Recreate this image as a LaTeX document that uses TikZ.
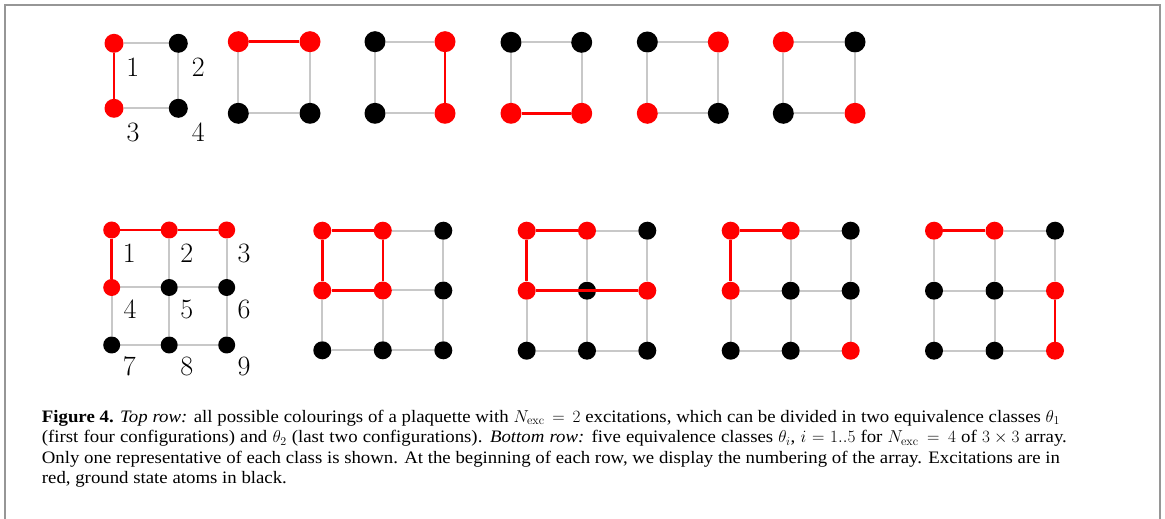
\documentclass[tikz,border=0pt]{standalone}
\usepackage{fontspec}
\newfontfamily\capfont[FakeStretch=1.075]{Liberation Serif}
\pgfdeclarelayer{edgel}
\pgfdeclarelayer{blackl}
\pgfdeclarelayer{redl}
\pgfsetlayers{edgel,blackl,redl,main}
\definecolor{edgegray}{RGB}{200,200,200}
\definecolor{framegray}{RGB}{150,150,150}
\tikzset{
  rsite/.style={circle, fill=red, inner sep=0pt},
  ksite/.style={circle, fill=black, inner sep=0pt},
  gline/.style={draw=edgegray, line width=2bp},
  rline/.style={draw=red, line width=2.6bp},
  numlab/.style={inner sep=0pt, font=\fontsize{28bp}{28bp}\selectfont},
  caption/.style={inner sep=0pt, anchor=base west, font=\capfont\fontsize{17.5bp}{20.5bp}\selectfont},
}
\newcommand{\site}[5]{%
  \if r#4%
    \node[rsite, minimum size=#5bp] (#1) at (#2,#3) {};%
  \else
    \begin{pgfonlayer}{blackl}\node[ksite, minimum size=#5bp] (#1) at (#2,#3) {};\end{pgfonlayer}%
  \fi}
\newcommand{\gedge}[2]{\begin{pgfonlayer}{edgel}\draw[gline] (#1) -- (#2);\end{pgfonlayer}}
\newcommand{\redge}[2]{\begin{pgfonlayer}{redl}\draw[rline] (#1) -- (#2);\end{pgfonlayer}}
% id, n, x0, dx, y0, dy, size, colours
\newcommand{\sqgrid}[8]{%
  \foreach \c [count=\i from 0] in {#8}{%
    \pgfmathtruncatemacro\sgcol{mod(\i,#2)}%
    \pgfmathtruncatemacro\sgrow{div(\i,#2)}%
    \pgfmathtruncatemacro\sgk{\i+1}%
    \site{#1-\sgk}{#3+\sgcol*#4}{#5+\sgrow*#6}{\c}{#7}%
  }%
  \pgfmathtruncatemacro\sgm{#2-1}%
  \foreach \r in {1,...,#2}{\foreach \q in {1,...,\sgm}{%
     \pgfmathtruncatemacro\sga{(\r-1)*#2+\q}\pgfmathtruncatemacro\sgb{\sga+1}%
     \gedge{#1-\sga}{#1-\sgb}%
     \pgfmathtruncatemacro\sgc{(\q-1)*#2+\r}\pgfmathtruncatemacro\sgd{\sgc+#2}%
     \gedge{#1-\sgc}{#1-\sgd}}}%
}
\begin{document}
\begin{tikzpicture}[x=1bp,y=-1bp]
\useasboundingbox (0,0) rectangle (1165,519);
\draw[framegray, line width=2bp] (5,519) -- (5,5) -- (1160,5) -- (1160,519);

% top row
\sqgrid{p1}{2}{114}{64.3}{43.3}{65}{19}{r,k,r,k}
\redge{p1-1}{p1-3}
\sqgrid{p2}{2}{238.3}{71.7}{41.7}{71.6}{21}{r,r,k,k}
\redge{p2-1}{p2-2}
\sqgrid{p3}{2}{375}{70}{41.7}{71.6}{21}{k,r,k,r}
\redge{p3-2}{p3-4}
\sqgrid{p4}{2}{511}{70.7}{42.3}{71}{21}{k,k,r,r}
\redge{p4-3}{p4-4}
\sqgrid{p5}{2}{647.3}{71}{42}{71.3}{21}{k,r,r,k}
\sqgrid{p6}{2}{783.3}{71.7}{42}{71.3}{21}{r,k,k,r}

\node[numlab] (t1) at (132.7,67) {1};
\node[numlab] (t2) at (198.3,67) {2};
\node[numlab] (t3) at (133,132) {3};
\node[numlab] (t4) at (198.3,132) {4};

% bottom row
\sqgrid{g1}{3}{111.7}{57.5}{230}{57.5}{17}{r,r,r,r,k,k,k,k,k}
\redge{g1-1}{g1-2}\redge{g1-2}{g1-3}\redge{g1-1}{g1-4}
\sqgrid{g2}{3}{322.3}{60.5}{230.7}{59.8}{18}{r,r,k,r,r,k,k,k,k}
\redge{g2-1}{g2-2}\redge{g2-1}{g2-4}\redge{g2-2}{g2-5}\redge{g2-4}{g2-5}
\sqgrid{g3}{3}{526.7}{60.3}{230.7}{60}{18}{r,r,k,r,k,r,k,k,k}
\redge{g3-1}{g3-2}\redge{g3-1}{g3-4}\redge{g3-4}{g3-6}
\sqgrid{g4}{3}{730.7}{60}{230.7}{60}{18}{r,r,k,r,k,k,k,k,r}
\redge{g4-1}{g4-2}\redge{g4-1}{g4-4}
\sqgrid{g5}{3}{934}{60.5}{230.7}{60}{18}{r,r,k,k,k,r,k,k,r}
\redge{g5-1}{g5-2}\redge{g5-6}{g5-9}

\foreach \n/\x/\y in {1/129.3/253.3, 2/186.7/253.3, 3/244/253.3,
                      4/130/309.3, 5/186.7/309.3, 6/244/309.3,
                      7/129.3/366, 8/186.7/366, 9/244/366}
  \node[numlab] (b\n) at (\x,\y) {\n};

% caption
\node[caption] (c1) at (41.7,422.3) {\makebox[1018bp][s]{\textbf{Figure 4.} \textit{Top row:} all possible colourings of a plaquette with $N_{\mathrm{exc}}\,=\,2$ excitations, which can be divided in two equivalence classes $\theta_1$}};
\node[caption] (c2) at (41.7,442.8) {\makebox[1025bp][s]{(first four configurations) and $\theta_2$ (last two configurations). \textit{Bottom row:} five equivalence classes $\theta_i$, $i=1..5$ for $N_{\mathrm{exc}}\,=\,4$ of $3\times3$ array.}};
\node[caption] (c3) at (41.7,463.3) {\makebox[1018bp][s]{Only one representative of each class is shown. At the beginning of each row, we display the numbering of the array. Excitations are in}};
\node[caption] (c4) at (41.7,483.8) {red, ground state atoms in black.};
\end{tikzpicture}
\end{document}
